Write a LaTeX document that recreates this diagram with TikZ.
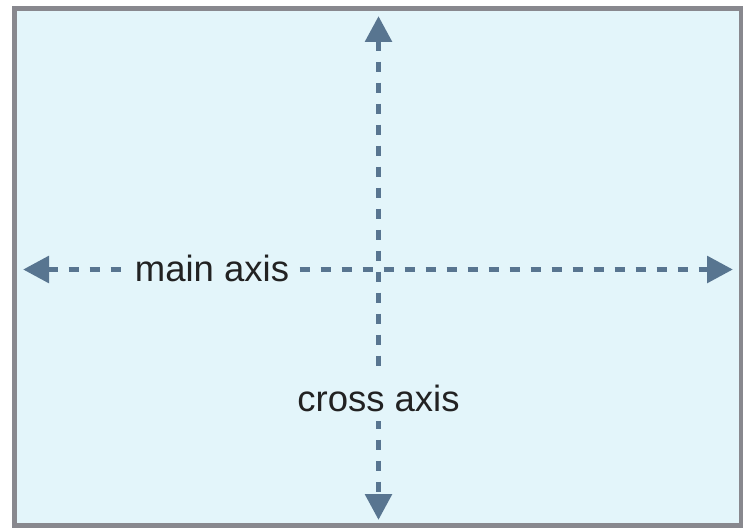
\documentclass[tikz,border=0pt]{standalone}
\usepackage{fontspec}
\setmainfont{Liberation Sans}
\usetikzlibrary{arrows.meta}

\definecolor{panelbg}{HTML}{E3F5FA}
\definecolor{panelframe}{HTML}{88888E}
\definecolor{axiscol}{HTML}{587590}
\definecolor{labelcol}{HTML}{222222}

\tikzset{
  axisline/.style={draw=axiscol, line width=5.8pt,
    dash pattern=on 10pt off 11pt,
    {Triangle[length=26pt,width=26pt,fill=axiscol]}-{Triangle[length=26pt,width=26pt,fill=axiscol]}},
  axislabel/.style={fill=panelbg, text=labelcol, inner sep=9pt,
    font=\fontsize{36.5}{40}\selectfont, anchor=base},
}

\begin{document}
\begin{tikzpicture}[x=1pt, y=-1pt]
  \useasboundingbox (0,0) rectangle (743,527);
  % container
  \draw[fill=panelbg, draw=panelframe, line width=5.3pt]
    (14.7,8.7) rectangle (741.5,525.5);

  % axis end points
  \coordinate (mainL) at (23,269.5);
  \coordinate (mainR) at (733,269.5);
  \coordinate (crossT) at (378.5,16);
  \coordinate (crossB) at (378.5,520);

  \draw[axisline] (mainL) -- (mainR);
  \draw[axisline] (crossT) -- (crossB);

  \node[axislabel] (mainlab) at (212,281) {main axis};
  \node[axislabel] (crosslab) at (378.5,411.5) {cross axis};
\end{tikzpicture}
\end{document}
